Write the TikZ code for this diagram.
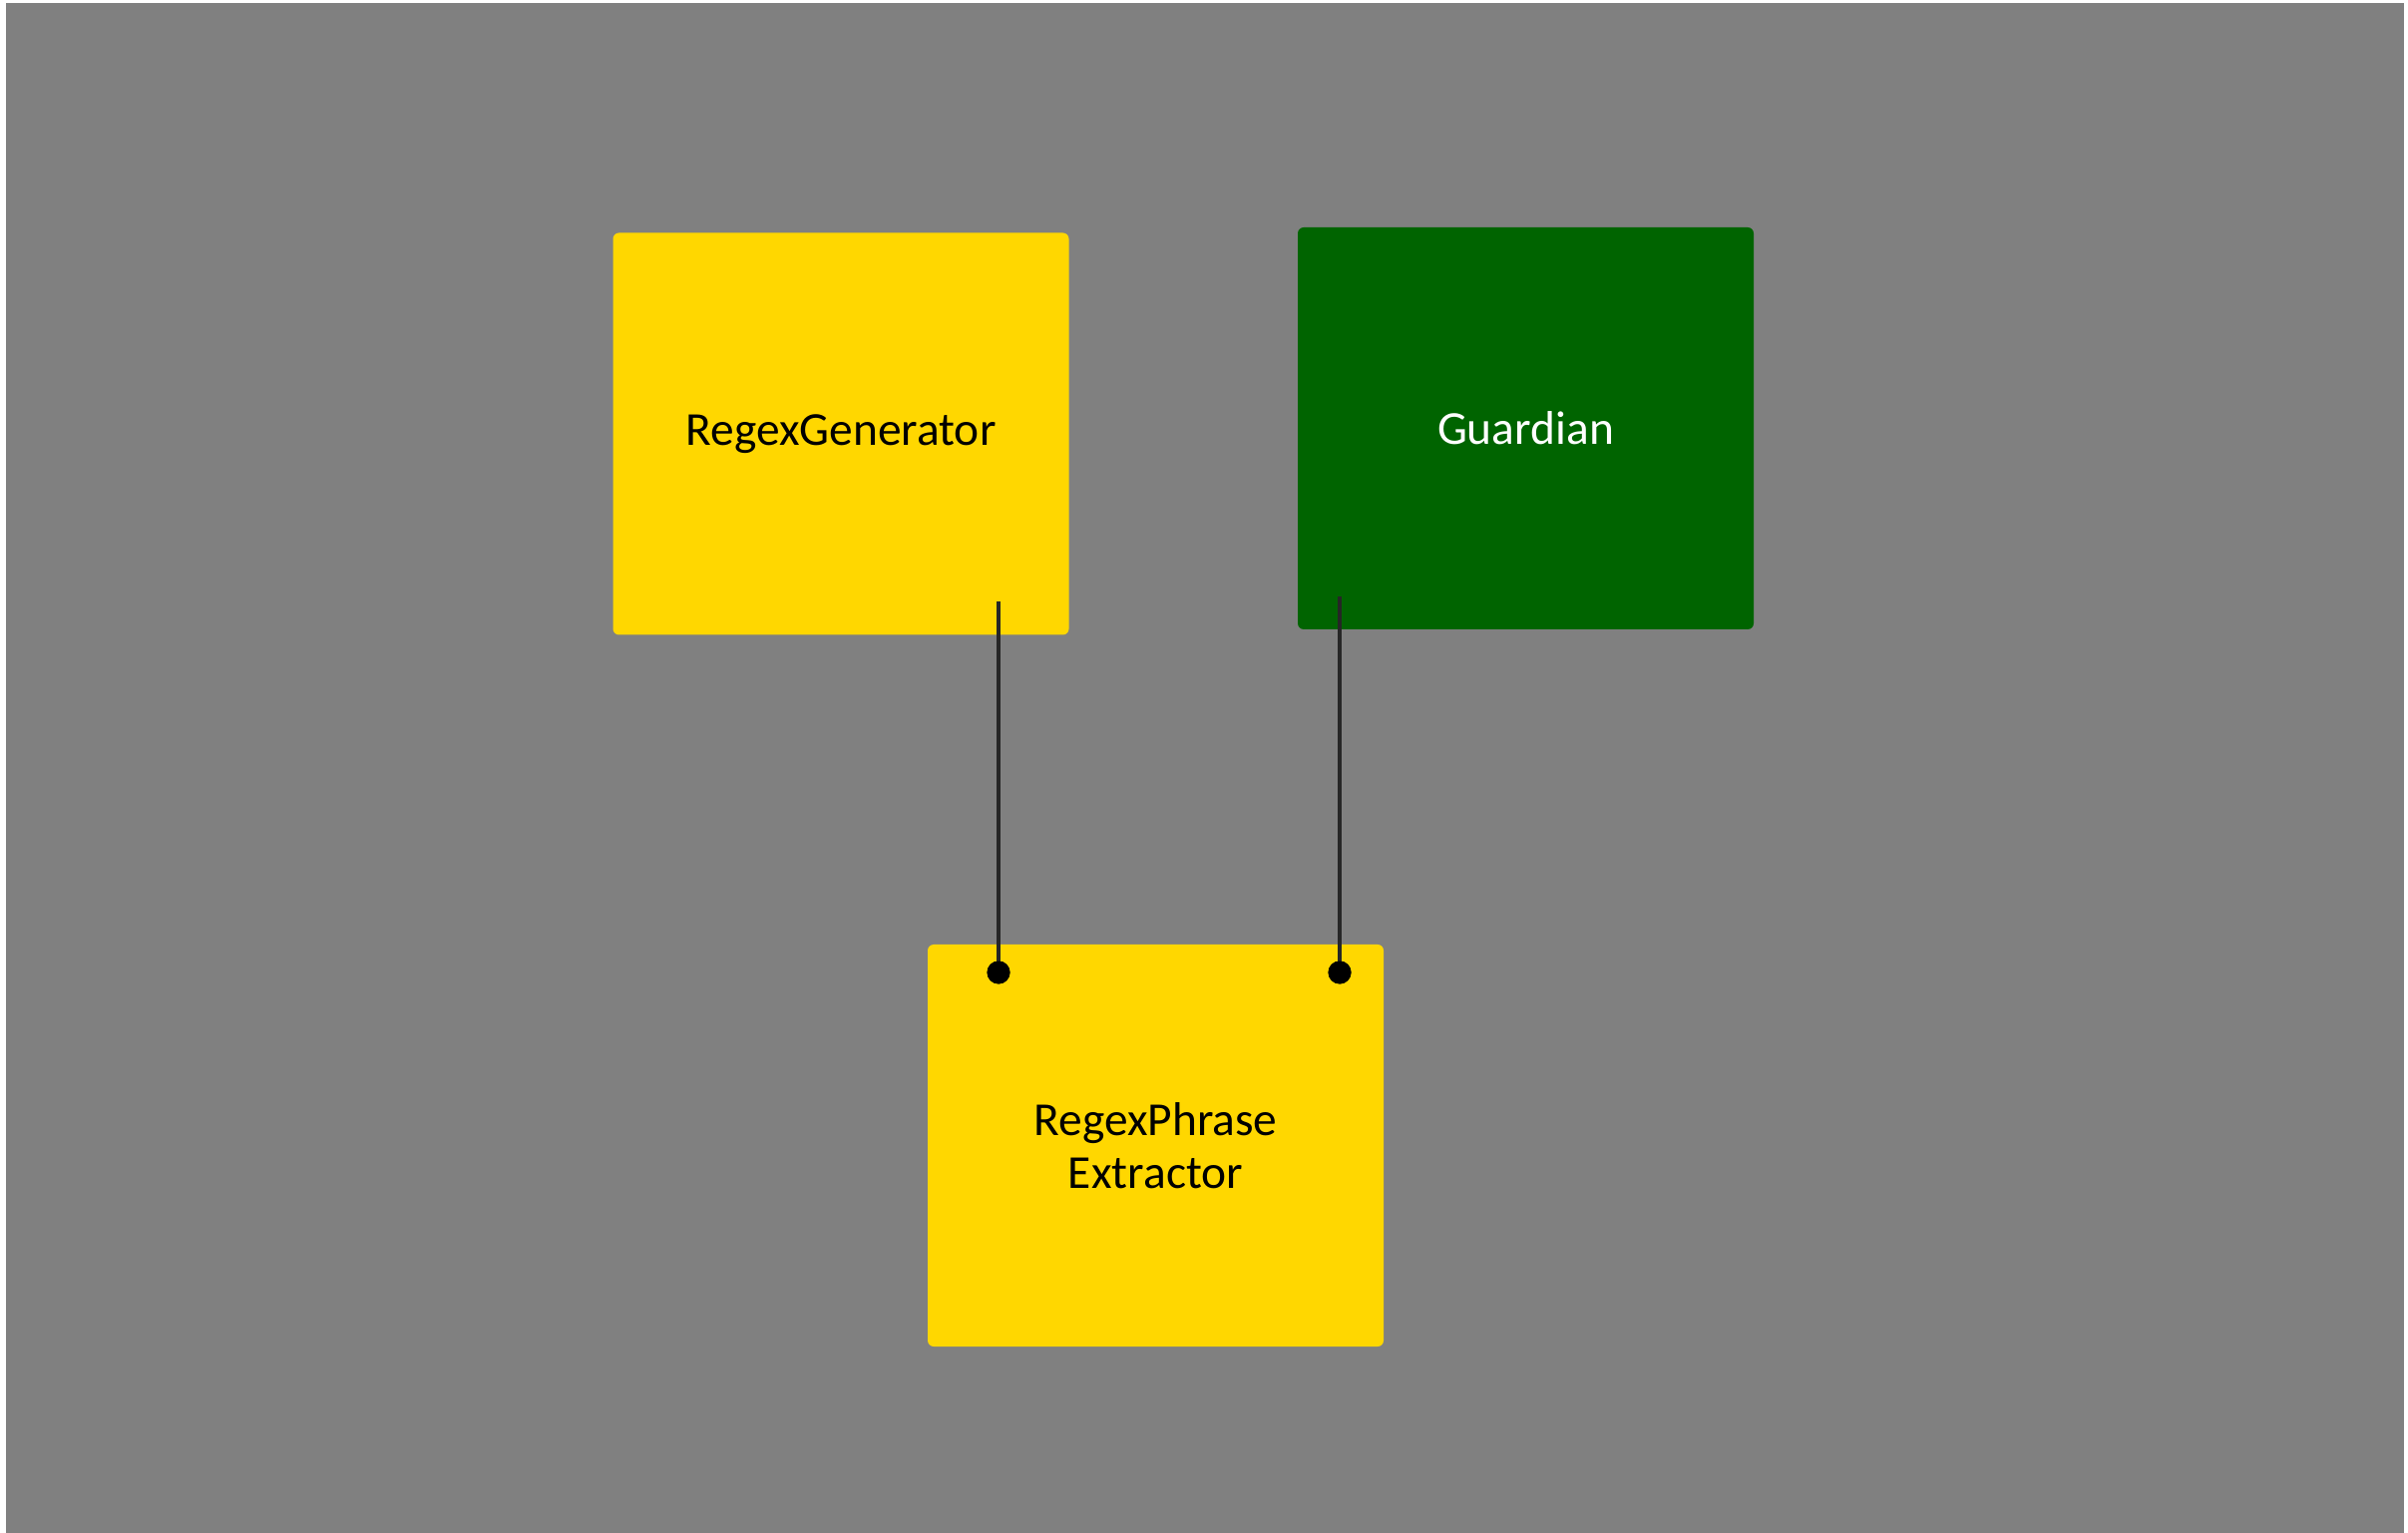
\documentclass[tikz,border=0pt]{standalone}
\usepackage{fontspec}
\setmainfont{Carlito}
\definecolor{canvas}{HTML}{808080}
\definecolor{gold}{HTML}{FFD700}
\definecolor{darkgreen}{HTML}{006400}

\begin{document}
\begin{tikzpicture}[x=1cm, y=-1cm,
        block/.style={
            rectangle, rounded corners=0.06cm,
            minimum width=4.57cm, minimum height=4.03cm,
            inner sep=0pt, align=center,
            font=\fontsize{13.5}{15}\selectfont,
          },
        port/.style={circle, fill=black, inner sep=0pt, minimum size=0.23cm},
        wire/.style={line width=0.04cm, draw=black!85},
    ]
    \useasboundingbox (0, 0) rectangle (24.14, 15.37);
    \fill[white] (0, 0) rectangle (24.14, 15.37);
    \fill[canvas] (0.06, 0.03) rectangle (24.10, 15.37);

    \node[block, fill=gold] (gen) at (8.43, 4.35) {RegexGenerator};
    \node[block, fill=darkgreen, text=white] (guard) at (15.295, 4.295) {Guardian};
    \node[block, fill=gold] (extr) at (11.585, 11.485) {RegexPhrase\\Extractor};

    \coordinate (genout) at (10.01, 6.03);
    \coordinate (guardout) at (13.43, 5.98);
    \node[port] (extrin1) at (10.01, 9.75) {};
    \node[port] (extrin2) at (13.43, 9.75) {};

    \draw[wire] (genout) -- (extrin1.center);
    \draw[wire] (guardout) -- (extrin2.center);
    \fill (extrin1) circle (0.115);
    \fill (extrin2) circle (0.115);
\end{tikzpicture}
\end{document}
